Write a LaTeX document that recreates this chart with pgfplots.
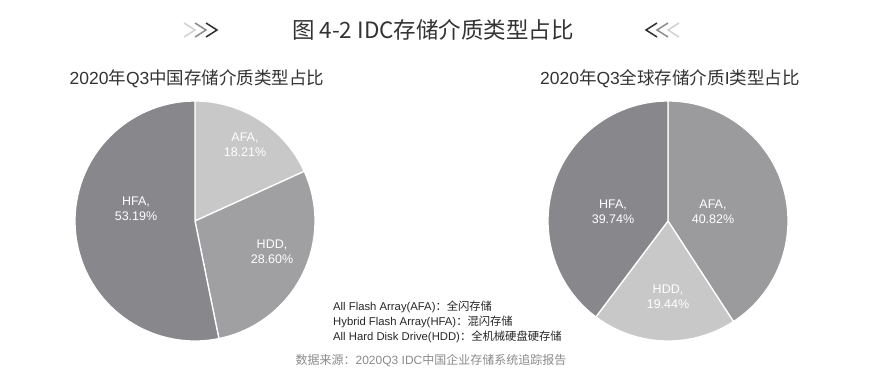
\documentclass[border=0pt]{standalone}
\usepackage{pgfplots}
\pgfplotsset{compat=1.18}
\usepackage{pgfplotstable}
\usepackage{fontspec}
\setmainfont{Liberation Sans}
\newfontfamily\cjk{Noto Sans CJK SC}

\definecolor{lightg}{HTML}{C8C8C9}
\definecolor{midg}{HTML}{A0A0A3}
\definecolor{midg2}{HTML}{9B9B9E}
\definecolor{darkg}{HTML}{88888C}
\definecolor{titlec}{HTML}{333333}
\definecolor{srcc}{HTML}{8A8A8A}

% China, Q3 2020 (clockwise from 12 o'clock)
\pgfplotstableread{
label value
AFA 18.21
HDD 28.60
HFA 53.19
}\chinadata
% Global, Q3 2020
\pgfplotstableread{
label value
AFA 40.82
HDD 19.44
HFA 39.74
}\globaldata

\pgfplotstablegetelem{0}{value}\of\chinadata \let\cA\pgfplotsretval
\pgfplotstablegetelem{1}{value}\of\chinadata \let\cB\pgfplotsretval
\pgfplotstablegetelem{2}{value}\of\chinadata \let\cC\pgfplotsretval
\pgfplotstablegetelem{0}{value}\of\globaldata \let\gA\pgfplotsretval
\pgfplotstablegetelem{1}{value}\of\globaldata \let\gB\pgfplotsretval
\pgfplotstablegetelem{2}{value}\of\globaldata \let\gC\pgfplotsretval
\pgfmathsetmacro\cAe{90-3.6*\cA}
\pgfmathsetmacro\cBe{\cAe-3.6*\cB}
\pgfmathsetmacro\cCe{\cBe-3.6*\cC}
\pgfmathsetmacro\gAe{90-3.6*\gA}
\pgfmathsetmacro\gBe{\gAe-3.6*\gB}
\pgfmathsetmacro\gCe{\gBe-3.6*\gC}

\begin{document}
\begin{tikzpicture}
\begin{axis}[
  width=878pt, height=383pt, scale only axis,
  xmin=0, xmax=878, ymin=0, ymax=383, y dir=reverse,
  hide axis, clip=false]
\path (axis cs:0,0) rectangle (axis cs:878,383);
% left pie
\fill[lightg, draw=white, line width=1.3pt] (axis cs:195,221) -- ++(90:120pt) arc[start angle=90, end angle=\cAe, radius=120pt] -- cycle;
\fill[midg, draw=white, line width=1.3pt] (axis cs:195,221) -- ++(\cAe:120pt) arc[start angle=\cAe, end angle=\cBe, radius=120pt] -- cycle;
\fill[darkg, draw=white, line width=1.3pt] (axis cs:195,221) -- ++(\cBe:120pt) arc[start angle=\cBe, end angle=\cCe, radius=120pt] -- cycle;
% right pie
\fill[midg2, draw=white, line width=1.3pt] (axis cs:668,221) -- ++(90:120pt) arc[start angle=90, end angle=\gAe, radius=120pt] -- cycle;
\fill[lightg, draw=white, line width=1.3pt] (axis cs:668,221) -- ++(\gAe:120pt) arc[start angle=\gAe, end angle=\gBe, radius=120pt] -- cycle;
\fill[darkg, draw=white, line width=1.3pt] (axis cs:668,221) -- ++(\gBe:120pt) arc[start angle=\gBe, end angle=\gCe, radius=120pt] -- cycle;

% pie labels
\tikzset{pl/.style={text=white, font=\fontsize{12.5}{15}\selectfont, align=center, inner sep=0pt}}
\node[pl] at (axis cs:245,145) {AFA,\\18.21\%};
\node[pl] at (axis cs:272,252) {HDD,\\28.60\%};
\node[pl] at (axis cs:136,209) {HFA,\\53.19\%};
\node[pl] at (axis cs:713,212) {AFA,\\40.82\%};
\node[pl] at (axis cs:613,212) {HFA,\\39.74\%};
\node[pl] at (axis cs:668,297) {HDD,\\19.44\%};

% titles
\node[text=titlec, font=\fontsize{22.5}{24}\selectfont\cjk, inner sep=0pt] at (axis cs:433,30) {图 4-2 IDC存储介质类型占比};
\node[text=titlec, font=\fontsize{17.5}{20}\selectfont, inner sep=0pt] at (axis cs:197,79) {2020{\cjk 年}Q3{\cjk 中国存储介质类型占比}};
\node[text=titlec, font=\fontsize{17.5}{20}\selectfont, inner sep=0pt] at (axis cs:670,79) {2020{\cjk 年}Q3{\cjk 全球存储介质}I{\cjk 类型占比}};

% chevrons
\draw[black!18, line width=1.5pt] (axis cs:184,23) -- (axis cs:195,30) -- (axis cs:184,37);
\draw[black!45, line width=1.5pt] (axis cs:195,23) -- (axis cs:206,30) -- (axis cs:195,37);
\draw[black!82, line width=1.5pt] (axis cs:206,23) -- (axis cs:217,30) -- (axis cs:206,37);
\draw[black!82, line width=1.5pt] (axis cs:657,23) -- (axis cs:646,30) -- (axis cs:657,37);
\draw[black!45, line width=1.5pt] (axis cs:668,23) -- (axis cs:657,30) -- (axis cs:668,37);
\draw[black!18, line width=1.5pt] (axis cs:679,23) -- (axis cs:668,30) -- (axis cs:679,37);

% legend text
\tikzset{lg/.style={text=black!85, font=\fontsize{11.3}{13}\selectfont, anchor=west, inner sep=0pt}}
\node[lg] at (axis cs:333,307) {All Flash Array(AFA){\cjk ：全闪存储}};
\node[lg] at (axis cs:333,322) {Hybrid Flash Array(HFA){\cjk ：混闪存储}};
\node[lg] at (axis cs:333,337) {All Hard Disk Drive(HDD){\cjk ：全机械硬盘硬存储}};

% source
\node[text=srcc, font=\fontsize{12}{14}\selectfont, inner sep=0pt] at (axis cs:431,361) {{\cjk 数据来源：}2020Q3 IDC{\cjk 中国企业存储系统追踪报告}};
\end{axis}
\end{tikzpicture}
\end{document}
